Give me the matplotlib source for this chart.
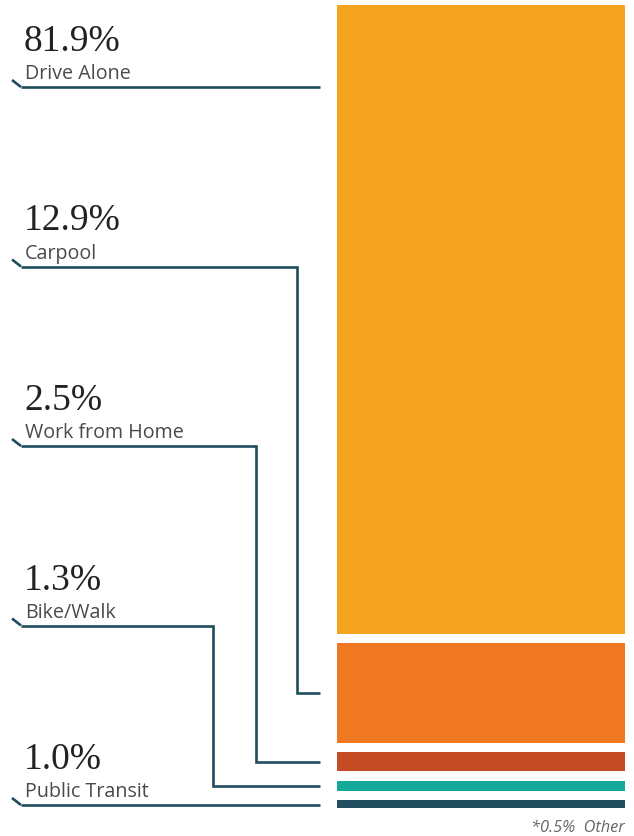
import matplotlib.pyplot as plt

# commute mode shares (percent)
modes = ["Drive Alone", "Carpool", "Work from Home", "Bike/Walk", "Public Transit"]
shares = [81.9, 12.9, 2.5, 1.3, 1.0]
share_labels = ["81.9%", "12.9%", "2.5%", "1.3%", "1.0%"]
colors = ["#F4A41E", "#F07823", "#C44C25", "#16A89B", "#214E5F"]
other_note = "*0.5%  Other"

line_color = "#1F4D5E"
W, H = 634, 836

fig = plt.figure(figsize=(W / 100, H / 100), dpi=100)
ax = fig.add_axes([0, 0, 1, 1])
ax.set_xlim(0, W)
ax.set_ylim(H, 0)
ax.axis("off")

# stacked bar, pixel scale
px_per_pct = 7.68
gap = 9.5
bar_left, bar_right = 337, 625
centers = []
y = 5
for v, c in zip(shares, colors):
    h = v * px_per_pct
    ax.bar(bar_left, h, bottom=y, width=bar_right - bar_left, align="edge",
           color=c, linewidth=0)
    centers.append(y + h / 2)
    y += h + gap

# labels and leader lines
label_x = 25
first_line_y = 87
step = 179.5
elbow_x = [None, 297, 255.5, 212.5, None]
line_end = 320
for i, (mode, lab) in enumerate(zip(modes, share_labels)):
    uy = first_line_y + i * step
    ax.text(label_x - 1, uy - 36, lab, fontsize=27, family="Liberation Serif",
            color="#222222", va="baseline", ha="left")
    ax.text(label_x, uy - 8, mode, fontsize=14.2, family="Open Sans",
            color="#4a4a4a", va="baseline", ha="left")
    lw = 1.9
    # small diagonal tick at the left end
    ax.plot([12, 21], [uy - 7, uy], color=line_color, lw=lw, solid_capstyle="butt")
    if elbow_x[i] is None:
        xs = [21, line_end]
        ys = [uy, uy]
    else:
        xs = [21, elbow_x[i], elbow_x[i], line_end]
        ys = [uy, uy, centers[i], centers[i]]
    ax.plot(xs, ys, color=line_color, lw=lw, solid_joinstyle="miter",
            solid_capstyle="butt")

ax.text(bar_right, 828, other_note, fontsize=11.8, style="italic", family="Open Sans",
        color="#666666", ha="right", va="center")

fig.savefig("out.png", dpi=100)
